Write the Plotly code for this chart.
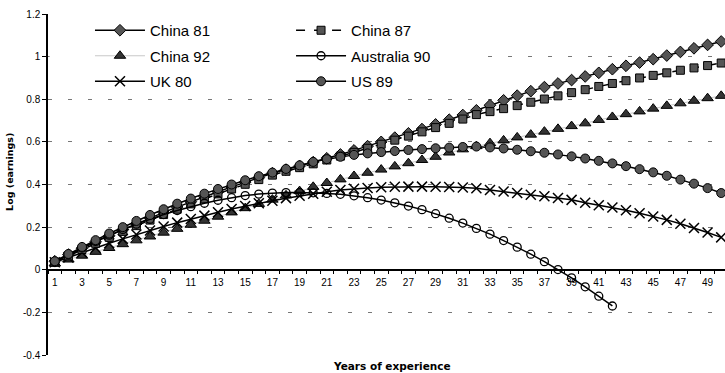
import plotly.graph_objects as go

years = list(range(1, 51))
tick_years = list(range(1, 50, 2))
tick_labels = [str(v) for v in tick_years]
y_tickvals = [-0.4, -0.2, 0, 0.2, 0.4, 0.6, 0.8, 1.0, 1.2]
y_ticktext = ["-0.4", "-0.2", "0", "0.2", "0.4", "0.6", "0.8", "1", "1.2"]

china81 = [0.040, 0.071, 0.101, 0.131, 0.160, 0.188, 0.216, 0.243, 0.269, 0.294,
           0.319, 0.343, 0.366, 0.389, 0.411, 0.432, 0.453, 0.470, 0.487, 0.505,
           0.523, 0.541, 0.560, 0.580, 0.600, 0.620, 0.640, 0.660, 0.682, 0.704,
           0.726, 0.748, 0.772, 0.795, 0.817, 0.838, 0.857, 0.874, 0.890, 0.907,
           0.924, 0.941, 0.957, 0.972, 0.988, 1.005, 1.022, 1.039, 1.055, 1.071]

china87 = [0.035, 0.065, 0.095, 0.124, 0.152, 0.180, 0.207, 0.233, 0.259, 0.284,
           0.309, 0.333, 0.356, 0.379, 0.401, 0.423, 0.444, 0.462, 0.479, 0.497,
           0.515, 0.533, 0.551, 0.570, 0.589, 0.608, 0.627, 0.647, 0.667, 0.687,
           0.707, 0.728, 0.742, 0.756, 0.770, 0.786, 0.801, 0.816, 0.831, 0.845,
           0.860, 0.874, 0.887, 0.900, 0.912, 0.924, 0.936, 0.947, 0.958, 0.970]

china92 = [0.030, 0.048, 0.066, 0.084, 0.102, 0.120, 0.138, 0.156, 0.174, 0.192,
           0.211, 0.230, 0.249, 0.269, 0.289, 0.309, 0.329, 0.349, 0.369, 0.389,
           0.407, 0.424, 0.440, 0.455, 0.470, 0.485, 0.500, 0.515, 0.530, 0.550,
           0.565, 0.580, 0.594, 0.607, 0.621, 0.634, 0.648, 0.661, 0.674, 0.687,
           0.703, 0.717, 0.730, 0.743, 0.756, 0.769, 0.781, 0.793, 0.805, 0.816]

australia90 = [0.035, 0.070, 0.102, 0.133, 0.162, 0.189, 0.214, 0.237, 0.259, 0.278,
               0.296, 0.312, 0.326, 0.338, 0.348, 0.355, 0.360, 0.362, 0.362, 0.361,
               0.358, 0.354, 0.347, 0.338, 0.327, 0.314, 0.299, 0.282, 0.263, 0.242,
               0.219, 0.194, 0.167, 0.137, 0.106, 0.073, 0.038, 0.001, -0.038, -0.080,
               -0.124, -0.170]

uk80 = [0.035, 0.058, 0.081, 0.103, 0.124, 0.145, 0.165, 0.184, 0.203, 0.221,
        0.238, 0.254, 0.270, 0.285, 0.299, 0.312, 0.324, 0.336, 0.347, 0.357,
        0.366, 0.374, 0.380, 0.384, 0.387, 0.389, 0.390, 0.390, 0.389, 0.388,
        0.386, 0.382, 0.374, 0.367, 0.360, 0.352, 0.345, 0.337, 0.328, 0.314,
        0.303, 0.292, 0.279, 0.265, 0.250, 0.234, 0.216, 0.196, 0.175, 0.152]

us89 = [0.040, 0.074, 0.107, 0.139, 0.170, 0.200, 0.229, 0.257, 0.284, 0.310,
        0.334, 0.357, 0.379, 0.400, 0.420, 0.439, 0.456, 0.473, 0.490, 0.506,
        0.519, 0.530, 0.539, 0.546, 0.552, 0.557, 0.562, 0.566, 0.570, 0.573,
        0.576, 0.578, 0.574, 0.569, 0.563, 0.556, 0.549, 0.541, 0.532, 0.522,
        0.511, 0.499, 0.486, 0.472, 0.457, 0.441, 0.423, 0.404, 0.383, 0.360]

FILL = "#555555"
LEG_FONT = dict(family="Liberation Sans, Arial, sans-serif", size=15, color="black")

fig = go.Figure()

def add(name, yvals, marker, line, legend, group):
    fig.add_trace(go.Scatter(
        x=years[:len(yvals)], y=yvals, name=name, mode="lines+markers",
        marker=marker, line=line, legend=legend, legendgroup=group,
    ))

add("China 81", china81,
    dict(symbol="diamond", size=9, color=FILL, line=dict(color="black", width=1)),
    dict(color="black", width=1.5), "legend", "g1")
add("China 92", china92,
    dict(symbol="triangle-up", size=10, color="#333333", line=dict(color="black", width=1)),
    dict(color="#c8c8c8", width=1), "legend", "g2")
add("UK 80", uk80,
    dict(symbol="x-thin-open", size=10, color="black", line=dict(color="black", width=1.5)),
    dict(color="black", width=1.5), "legend", "g3")
add("China 87", china87,
    dict(symbol="square", size=8, color=FILL, line=dict(color="black", width=1)),
    dict(color="black", width=1.5, dash="dash"), "legend2", "g4")
add("Australia 90", australia90,
    dict(symbol="circle-open", size=8, color="black", line=dict(color="black", width=1.3)),
    dict(color="black", width=1.5), "legend2", "g5")
add("US 89", us89,
    dict(symbol="circle", size=9, color=FILL, line=dict(color="black", width=1)),
    dict(color="black", width=1.5), "legend2", "g6")

legend_common = dict(
    xanchor="left", yanchor="top", bgcolor="rgba(0,0,0,0)", borderwidth=0,
    font=LEG_FONT, itemwidth=50, traceorder="grouped", tracegroupgap=3,
    orientation="v",
)

fig.update_layout(
    width=725, height=373,
    margin=dict(l=48, r=0, t=14, b=18),
    paper_bgcolor="white", plot_bgcolor="white",
    showlegend=True,
    legend=dict(x=0.062, y=1.0, **legend_common),
    legend2=dict(x=0.359, y=1.0, **legend_common),
    xaxis=dict(
        range=[0.5, 50.28], anchor="free", position=0.25,
        showline=True, linecolor="black", linewidth=1.5,
        tickvals=tick_years, ticktext=tick_labels, ticks="",
        ticklabelstandoff=3,
        tickfont=dict(family="Liberation Sans, Arial, sans-serif", size=10, color="black"),
        showgrid=False, zeroline=False,
        minor=dict(tickvals=[v + 0.5 for v in range(0, 51)], ticks="outside",
                   ticklen=3, tickcolor="black", tickwidth=1, showgrid=False),
    ),
    yaxis=dict(
        range=[-0.4, 1.2], domain=[0, 1],
        showline=True, linecolor="black", linewidth=1.5,
        tickvals=y_tickvals, ticktext=y_ticktext, ticks="outside", ticklen=4,
        tickcolor="black",
        tickfont=dict(family="Liberation Sans, Arial, sans-serif", size=10, color="black"),
        showgrid=True, gridcolor="#777777", gridwidth=1, griddash="4px,16px",
        zeroline=True, zerolinecolor="black", zerolinewidth=1.5,
    ),
    shapes=[
        dict(type="rect", xref="x", yref="y", x0=0.62, x1=31.9, y0=0.86, y1=1.14,
             fillcolor="white", line=dict(width=0), layer="above"),
    ],
    annotations=[
        dict(text="<b>Years of experience</b>", xref="paper", yref="paper",
             x=0.508, y=-0.032, showarrow=False, xanchor="center", yanchor="middle",
             font=dict(family="DejaVu Sans", size=10.5, color="black")),
        dict(text="<b>Log (earnings)</b>", xref="paper", yref="paper",
             x=-0.0561, y=0.537, showarrow=False, textangle=-90,
             xanchor="center", yanchor="middle",
             font=dict(family="DejaVu Sans", size=9.5, color="black")),
    ],
)

fig.write_html("out.html")
